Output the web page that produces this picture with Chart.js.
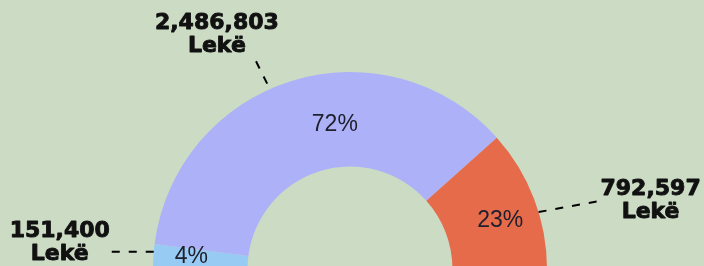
<!DOCTYPE html>
<html>
<head>
<meta charset="utf-8">
<script src="https://cdn.jsdelivr.net/npm/chart.js@4"></script>
<style>
  html, body { margin: 0; padding: 0; background: #cbdbc4; overflow: hidden; }
  #wrap { width: 704px; height: 280px; }
</style>
</head>
<body>
<div id="wrap"><canvas id="chart" width="704" height="280"></canvas></div>
<script>
// Slices, clockwise from the left end of the half ring.
const categories = ["Blue", "Purple", "Orange"];
// Share of the total in percent (the ring is drawn from these).
const shares = [4, 72, 23];
// Amounts written next to each slice.
const amounts = [151400, 2486803, 792597];
const currency = "Lekë";
const colors = ["#98cbf3", "#adb2f8", "#e56b4b"];

// Where the percent text sits inside each slice (angle in degrees, radius in px).
const pctPlace = [
  { angle: -175.7, r: 159 },
  { angle: -96, r: 145 },
  { angle: -18, r: 158 },
];
// Leader lines: start angle on the outer edge, end offset, then text offset from the end.
const callouts = [
  { angle: -175, dx: -47, dy: 0, gap: 0, tx: -47, ty: -15 },
  { angle: -114, dx: -16, dy: -32, gap: 6, tx: -37, ty: -28 },
  { angle: -16.8, dx: 66, dy: -12, gap: 0, tx: 46, ty: -5 },
];

const labelPlugin = {
  id: "labels",
  afterDatasetsDraw(chart) {
    const ctx = chart.ctx;
    const meta = chart.getDatasetMeta(0);
    meta.data.forEach((arc, i) => {
      const { x, y, outerRadius } = arc.getProps(["x", "y", "outerRadius"], true);

      // percent inside the slice
      const p = pctPlace[i];
      const pa = p.angle * Math.PI / 180;
      ctx.save();
      ctx.font = '23px "Liberation Sans", Arial, sans-serif';
      ctx.fillStyle = "#20202c";
      ctx.textAlign = "center";
      ctx.textBaseline = "middle";
      ctx.fillText(shares[i] + "%", x + p.r * Math.cos(pa), y + p.r * Math.sin(pa));
      ctx.restore();

      // dashed leader line
      const c = callouts[i];
      const a = c.angle * Math.PI / 180;
      const sx = x + outerRadius * Math.cos(a);
      const sy = y + outerRadius * Math.sin(a);
      const ex = sx + c.dx;
      const ey = sy + c.dy;
      const len = Math.hypot(c.dx, c.dy);
      ctx.save();
      ctx.strokeStyle = "#000";
      ctx.lineWidth = 2;
      ctx.setLineDash([8, 9]);
      ctx.beginPath();
      ctx.moveTo(sx + c.dx / len * c.gap, sy + c.dy / len * c.gap);
      ctx.lineTo(ex, ey);
      ctx.stroke();
      ctx.restore();

      // amount + currency
      ctx.save();
      ctx.font = 'bold 22px "DejaVu Sans", sans-serif';
      ctx.fillStyle = "#111";
      ctx.strokeStyle = "#111";
      ctx.lineWidth = 0.9;
      ctx.lineJoin = "round";
      ctx.textAlign = "center";
      ctx.textBaseline = "alphabetic";
      const tx = ex + c.tx;
      const ty = ey + c.ty;
      const amount = amounts[i].toLocaleString("en-US");
      ctx.fillText(amount, tx, ty);
      ctx.strokeText(amount, tx, ty);
      ctx.fillText(currency, tx, ty + 23);
      ctx.strokeText(currency, tx, ty + 23);
      ctx.restore();
    });
  },
};

new Chart(document.getElementById("chart"), {
  type: "doughnut",
  data: {
    labels: categories,
    datasets: [
      {
        data: shares,
        backgroundColor: colors,
        borderWidth: 0,
      },
    ],
  },
  options: {
    responsive: false,
    animation: false,
    devicePixelRatio: 1,
    rotation: -90,
    circumference: 180,
    cutout: "52%",
    layout: { padding: { top: 72, bottom: 11, left: 0, right: 4 } },
    plugins: {
      legend: { display: false },
      tooltip: { enabled: false },
    },
  },
  plugins: [labelPlugin],
});
</script>
</body>
</html>
